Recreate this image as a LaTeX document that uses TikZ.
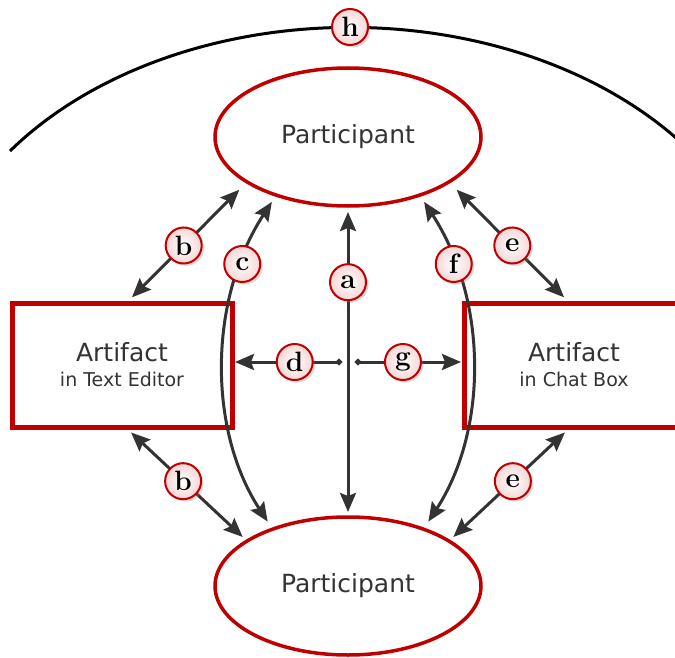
\documentclass[tikz,border=0pt]{standalone}
\usepackage{fontspec}
\setsansfont{DejaVu Sans}
\usepackage{xcolor}
\usepackage{tikz}
\usetikzlibrary{arrows.meta,positioning,calc,shapes.geometric,shadows}
\definecolor{partRed}{HTML}{C00000}
\definecolor{arrGray}{HTML}{333333}
\definecolor{txtGray}{HTML}{333333}

\begin{document}
\begin{tikzpicture}[
x=1pt, y=-1pt,
every node/.style={font=\sffamily, text=txtGray},
part/.style={ellipse, draw=partRed, line width=3.5pt, minimum width=266pt, minimum height=138pt, inner sep=0pt, outer sep=0pt, font=\sffamily\fontsize{25}{25}\selectfont},
artif/.style={rectangle, draw=partRed, line width=5pt, minimum width=220pt, minimum height=124pt, align=center, inner sep=0pt, outer sep=0pt, font=\sffamily\fontsize{25}{25}\selectfont},
tag/.style={circle, draw=partRed, line width=2pt, inner color=white, outer color=partRed!16, minimum size=36pt, inner sep=0pt, drop shadow={opacity=0.3, shadow xshift=2.5pt, shadow yshift=-2.5pt}, font=\rmfamily\bfseries\fontsize{28}{28}\selectfont, text=black},
arr/.style={{Circle[length=6pt]}-{Stealth[length=19pt,width=16pt,inset=3pt]}, line width=3pt, draw=arrGray},
darr/.style={{Stealth[length=19pt,width=16pt,inset=3pt]}-{Stealth[length=19pt,width=16pt,inset=3pt]}, line width=3pt, draw=arrGray}
]
\useasboundingbox (0,0) rectangle (675,658);
\clip (0,0) rectangle (675,658);

% Outer arc (h)
\coordinate (hl) at (10,151);
\draw[line width=3pt] (hl) arc[start angle=216.3, end angle=323.7, x radius=422, y radius=303];
\node[tag] (h) at (350,27) {h};

% Participants and artifacts
\node[part] (P1) at (348,137) {Participant};
\node[part] (P2) at (348,586) {Participant};
\node[artif] (A1) at (122,365) {Artifact\\{\fontsize{19}{19}\selectfont in Text Editor}};
\node[artif] (A2) at (574,365) {Artifact\\{\fontsize{19}{19}\selectfont in Chat Box}};

% Participant <-> participant
\draw[darr, shorten <=6pt, shorten >=5pt] (P1) -- node[tag, pos=0.245] {a} (P2);
\draw[darr, shorten <=8pt, shorten >=9pt] (P1.219) .. controls (208,300) and (208,430) .. node[tag, pos=0.21] {c} (P2.143);
\draw[darr, shorten <=8pt, shorten >=9pt] (P1.321) .. controls (488,300) and (488,430) .. node[tag, pos=0.21] {f} (P2.37);

% Artifact <-> participant
\draw[darr, shorten <=8pt, shorten >=11pt] (A1.86) -- node[tag, pos=0.475] {b} (P1.204);
\draw[darr, shorten <=8pt, shorten >=11pt] (A2.94) -- node[tag, pos=0.475] {e} (P1.336);
\draw[darr, shorten <=8pt, shorten >=6pt] (A1.273) -- node[tag, pos=0.475] {b} (P2.156);
\draw[darr, shorten <=8pt, shorten >=6pt] (A2.267) -- node[tag, pos=0.475] {e} (P2.24);

% Centre -> artifacts
\coordinate (dl) at (342,362);
\coordinate (dr) at (355,362);
\draw[arr, shorten >=3pt] (dl) -- node[tag, pos=0.43] {d} (dl -| A1.east);
\draw[arr, shorten >=3pt] (dr) -- node[tag, pos=0.44] {g} (dr -| A2.west);

\end{tikzpicture}
\end{document}
